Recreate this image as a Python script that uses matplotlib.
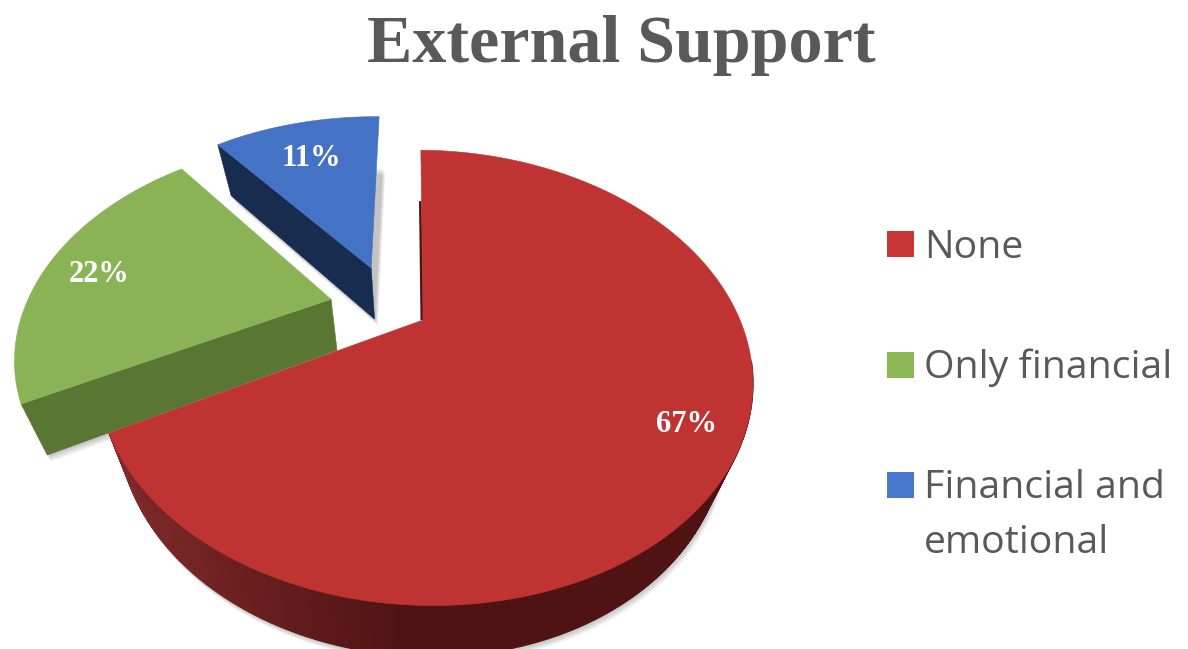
import numpy as np
import matplotlib
matplotlib.use("Agg")
import matplotlib.pyplot as plt
from matplotlib.patches import Polygon, Rectangle

# Survey shares
categories = ["None", "Only financial", "Financial and\nemotional"]
shares = [67, 22, 11]

# Slice appearance
top_colors = ["#BF3433", "#8AB355", "#4472C4"]
legend_colors = ["#C93636", "#8DB856", "#4878CE"]
cut_colors = ["#4F1313", "#5A7633", "#182C50"]
explode_x = [0.0, -0.295, -0.168]
explode_y = [0.0, -0.10, -0.26]
radius = [1.0, 0.98, 1.0]
label_xy = [(686.5, 425), (99, 274), (311, 158)]

# Projection of the pie plane onto the page
CX, CY = 423.0, 320.0
A, B, K = 317.0, 213.0, 0.254
SHEAR = 0.036
ROTATION = 0.9
DEPTH = 51.0
TAPER_LEFT, TAPER_RIGHT = 0.935, 0.915
GREY = "#595959"


def top_point(px, py):
    den = 1 - K * py
    y = B * py / den
    return CX + A * px / den + SHEAR * y, CY + y


def low_point(px, py):
    x, y = top_point(px, py)
    taper = TAPER_LEFT if x < CX else TAPER_RIGHT
    return CX + taper * (x - CX), y + DEPTH


def rim(a0, a1, ox, oy, r, fn, step=0.5):
    n = max(int((a1 - a0) / step), 2)
    th = np.radians(np.linspace(a0, a1, n))
    return np.array([fn(r * np.sin(t) + ox, -r * np.cos(t) + oy) for t in th])


def blend(c0, c1, t):
    return tuple((1 - t) * np.array(c0) + t * np.array(c1))


fig = plt.figure(figsize=(11.88, 6.49), dpi=100, facecolor="white")
ax = fig.add_axes([0, 0, 1, 1])
ax.set_xlim(0, 1188)
ax.set_ylim(649, 0)
ax.axis("off")

edges = np.concatenate([[0], np.cumsum(shares)]) * 3.6 + ROTATION
spans = list(zip(edges[:-1], edges[1:]))

# Painted from back to front: blue, green, red
for i in [2, 1, 0]:
    a0, a1 = spans[i]
    ox, oy = explode_x[i], explode_y[i]
    z = 2 + (2 - i) * 2
    apex_t = np.array(top_point(ox, oy))
    apex_l = np.array(low_point(ox, oy))
    rim_t = rim(a0, a1, ox, oy, radius[i], top_point)
    rim_l = rim(a0, a1, ox, oy, radius[i], low_point)

    # Soft drop shadow beneath the slice
    foot = np.vstack([[apex_l], rim_l])
    for grow in np.linspace(7, 1, 7):
        ax.add_patch(Polygon(foot + [grow * 0.5, grow], closed=True, fc="#000000",
                             ec="none", alpha=0.035, zorder=z))

    if i == 0:
        # Outer wall of the large slice, shaded across its width
        for k in range(len(rim_t) - 1):
            if rim_t[k, 1] < 360 or rim_t[k + 1, 1] < 360:
                continue
            x = rim_t[k, 0]
            col = blend((0.50, 0.16, 0.16), (0.31, 0.075, 0.075), np.clip((x - 115) / 290, 0, 1))
            ax.add_patch(Polygon([rim_t[k], rim_t[k + 1], rim_l[k + 1], rim_l[k]],
                                 closed=True, fc=col, ec=col, lw=0.9, zorder=z))
        # Narrow sliver of the cut face beside the straight top edge
        head = rim_t[0] + 0.3 * (apex_t - rim_t[0])
        ax.add_patch(Polygon([head, apex_t + [0.5, 0], apex_t + [-2.5, 0], head + [-2.5, 0]],
                             closed=True, fc=cut_colors[0], ec="none", zorder=z))
    else:
        # Straight cut face turned toward the viewer
        ax.add_patch(Polygon([rim_t[0], apex_t, apex_l, rim_l[0]], closed=True,
                             fc=cut_colors[i], ec=cut_colors[i], lw=0.4, zorder=z))

    ax.add_patch(Polygon(np.vstack([[apex_t], rim_t]), closed=True, fc=top_colors[i],
                         ec=top_colors[i], lw=0.4, zorder=z + 1))

    ax.text(*label_xy[i], f"{shares[i]}%", color="white", fontsize=22, fontweight="bold",
            family="Liberation Serif", ha="center", va="center", zorder=20)

ax.text(621, 62, "External Support", color=GREY, fontsize=49, fontweight="bold",
        family="Liberation Serif", ha="center", va="baseline", zorder=20)

# Legend
key_y = [231, 352, 472]
base_y = [258, 378, 498]
for name, col, ky, by in zip(categories, legend_colors, key_y, base_y):
    ax.add_patch(Rectangle((887, ky), 27, 26, fc=col, ec="none", zorder=20))
    for j, line in enumerate(name.split("\n")):
        ax.text(924, by + j * 55, line, color=GREY, fontsize=28.3, family="Open Sans",
                ha="left", va="baseline", zorder=20)

fig.savefig("out.png", dpi=100, facecolor="white")
